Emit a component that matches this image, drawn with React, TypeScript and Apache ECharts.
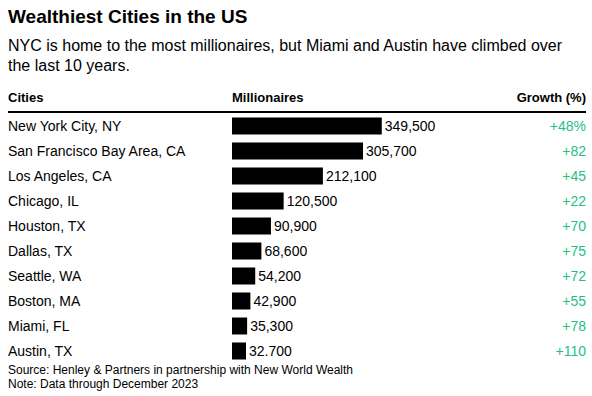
import React, { useEffect, useRef } from "react";
import * as echarts from "echarts";

const cities = [
  "New York City, NY",
  "San Francisco Bay Area, CA",
  "Los Angeles, CA",
  "Chicago, IL",
  "Houston, TX",
  "Dallas, TX",
  "Seattle, WA",
  "Boston, MA",
  "Miami, FL",
  "Austin, TX",
];
const millionaires = [349500, 305700, 212100, 120500, 90900, 68600, 54200, 42900, 35300, 32700];
const valueLabels = ["349,500", "305,700", "212,100", "120,500", "90,900", "68,600", "54,200", "42,900", "35,300", "32.700"];
const growth = ["+48%", "+82", "+45", "+22", "+70", "+75", "+72", "+55", "+78", "+110"];

const FONT = "'Liberation Sans', Arial, Helvetica, sans-serif";

export default function App() {
  const ref = useRef<HTMLDivElement>(null);
  useEffect(() => {
    if (!ref.current) return;
    const chart = echarts.init(ref.current, null, { renderer: "svg" });
    chart.setOption({
      animation: false,
      textStyle: { fontFamily: FONT },
      grid: { left: 232, right: 60, top: 113.5, height: 250, containLabel: false },
      xAxis: {
        type: "value",
        min: 0,
        max: 700000,
        show: false,
      },
      yAxis: [
        {
          type: "category",
          data: cities,
          inverse: true,
          axisLine: { show: false },
          axisTick: { show: false },
          axisLabel: {
            align: "left",
            margin: 224,
            color: "#000",
            fontSize: 14,
            fontFamily: FONT,
          },
        },
        {
          type: "category",
          data: growth,
          inverse: true,
          position: "right",
          axisLine: { show: false },
          axisTick: { show: false },
          axisLabel: {
            align: "right",
            margin: 54,
            color: "#1fbf85",
            fontSize: 14,
            fontFamily: FONT,
          },
        },
      ],
      series: [
        {
          type: "bar",
          data: millionaires,
          barWidth: 17,
          itemStyle: { color: "#000" },
          label: {
            show: true,
            position: "right",
            distance: 3,
            color: "#000",
            fontSize: 14,
            fontFamily: FONT,
            formatter: (p: any) => valueLabels[p.dataIndex],
          },
        },
      ],
      graphic: [
        { type: "text", left: 8, top: 7, style: { text: "Wealthiest Cities in the US", font: `bold 19px ${FONT}`, fill: "#000" } },
        {
          type: "text",
          left: 8,
          top: 35,
          style: {
            text: "NYC is home to the most millionaires, but Miami and Austin have climbed over\nthe last 10 years.",
            font: `16px ${FONT}`,
            lineHeight: 20,
            fill: "#000",
          },
        },
        { type: "text", left: 8, top: 91, style: { text: "Cities", font: `bold 13px ${FONT}`, fill: "#000" } },
        { type: "text", left: 232, top: 91, style: { text: "Millionaires", font: `bold 13px ${FONT}`, fill: "#000" } },
        { type: "text", right: 6, top: 91, style: { text: "Growth (%)", font: `bold 13px ${FONT}`, fill: "#000" } },
        { type: "line", shape: { x1: 8, y1: 112, x2: 586, y2: 112 }, style: { stroke: "#000", lineWidth: 2 } },
        {
          type: "text",
          left: 8,
          top: 363,
          style: {
            text: "Source: Henley & Partners in partnership with New World Wealth\nNote: Data through December 2023",
            font: `12px ${FONT}`,
            lineHeight: 14,
            fill: "#000",
          },
        },
      ],
    });
    return () => chart.dispose();
  }, []);
  return <div ref={ref} style={{ position: "absolute", left: 0, top: 0, width: 592, height: 396 }} />;
}
